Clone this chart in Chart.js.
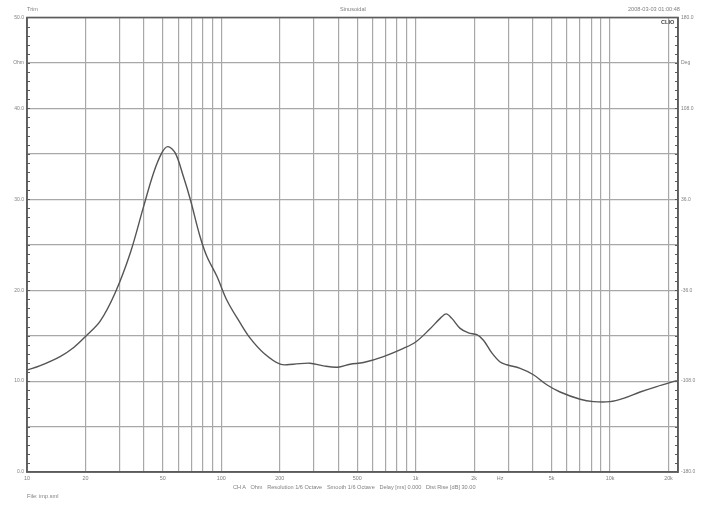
<!DOCTYPE html>
<html>
<head>
<meta charset="utf-8">
<script src="https://cdn.jsdelivr.net/npm/chart.js@4.4.1/dist/chart.umd.min.js"></script>
<style>
    body { margin: 0; background: #fff; }
    #wrap { position: relative; width: 705px; height: 508px; }
    .lbl { position: absolute; font-family: "Liberation Sans", Arial, sans-serif; font-size: 5.6px; line-height: 6px; color: #808080; white-space: pre; }
</style>
</head>
<body>
<div id="wrap">
    <canvas id="impChart" width="705" height="508"></canvas>
    <div class="lbl" style="left:27px; top:6px;">Trim</div>
    <div class="lbl" style="left:340px; top:6px;">Sinusoidal</div>
    <div class="lbl" style="left:628px; top:6px;">2008-03-03 01:00:48</div>
    <div class="lbl" style="left:661px; top:19px; font-weight:bold; color:#444;">CLIO</div>
    <div class="lbl" style="left:233px; top:484px;">CH A   Ohm   Resolution 1/6 Octave   Smooth 1/6 Octave   Delay [ms] 0.000   Dist Rise [dB] 30.00</div>
    <div class="lbl" style="left:27px; top:493px;">File: imp.sml</div>
</div>
<script>
// impedance curve
const freqHz = [10, 11.7, 14.8, 17.4, 20.2, 23.8, 28.4, 34, 39.8, 44.8, 49.4, 53, 57.9, 63.8, 69.2, 77.7, 84.3, 95, 106.8, 125, 141, 165, 201, 235, 286, 336, 396, 460, 539, 683, 865, 1000, 1180, 1337, 1436, 1535, 1694, 1870, 2065, 2233, 2466, 2721, 2944, 3450, 4036, 4730, 5536, 7020, 8220, 10000, 11720, 14290, 17400, 22080];
const impedanceOhm = [11.2, 11.7, 12.7, 13.7, 15.0, 16.6, 19.7, 24.1, 29.2, 32.9, 35.1, 35.8, 35.1, 32.5, 30.0, 25.9, 23.7, 21.5, 18.9, 16.4, 14.7, 13.1, 11.86, 11.86, 11.97, 11.67, 11.53, 11.86, 12.04, 12.7, 13.6, 14.3, 15.7, 16.9, 17.4, 16.9, 15.8, 15.3, 15.1, 14.5, 13.1, 12.1, 11.8, 11.4, 10.7, 9.6, 8.8, 8.0, 7.74, 7.74, 8.1, 8.8, 9.4, 10.05];

// x axis grid + labels ("Hz" sits between 2k and 5k with no grid line)
const xTicks = [10, 20, 30, 40, 50, 60, 70, 80, 90, 100, 200, 300, 400, 500, 600, 700, 800, 900, 1000, 2000, 2721, 3000, 4000, 5000, 6000, 7000, 8000, 9000, 10000, 20000];
const xTickLabels = ["10", "20", "", "", "50", "", "", "", "", "100", "200", "", "", "500", "", "", "", "", "1k", "2k", "Hz", "", "", "5k", "", "", "", "", "10k", "20k"];
const hzTick = 2721;

const gridGrey = "#a8a8a8";
const frameGrey = "#5c5c5c";
const textGrey = "#808080";

// minor ticks every 1 Ohm on both side axes + frame around the plot
const framePlugin = {
    id: "frame",
    afterDraw(chart) {
        const ctx = chart.ctx;
        const area = chart.chartArea;
        const y = chart.scales.y;
        ctx.save();
        ctx.strokeStyle = frameGrey;
        ctx.lineWidth = 1;
        ctx.beginPath();
        for (let v = 1; v < 50; v++) {
            const py = Math.round(y.getPixelForValue(v)) + 0.5;
            ctx.moveTo(area.left, py);
            ctx.lineTo(area.left + 3, py);
            ctx.moveTo(area.right - 3, py);
            ctx.lineTo(area.right, py);
        }
        ctx.stroke();
        ctx.lineWidth = 1.6;
        ctx.strokeRect(area.left, area.top, area.right - area.left, area.bottom - area.top);
        ctx.restore();
    },
};

new Chart(document.getElementById("impChart").getContext("2d"), {
    type: "line",
    data: {
        datasets: [
            {
                data: freqHz.map((f, i) => ({ x: f, y: impedanceOhm[i] })),
                borderColor: "#555",
                borderWidth: 1.4,
                pointRadius: 0,
                tension: 0.35,
                yAxisID: "y",
            },
        ],
    },
    options: {
        responsive: false,
        animation: false,
        layout: { padding: { top: 17.5 } },
        plugins: { legend: { display: false }, tooltip: { enabled: false } },
        scales: {
            x: {
                type: "logarithmic",
                min: 10,
                max: 22390,
                afterBuildTicks: (scale) => {
                    scale.ticks = xTicks.map((v) => ({ value: v }));
                },
                afterFit: (scale) => {
                    scale.height = 36;
                },
                ticks: {
                    autoSkip: false,
                    maxRotation: 0,
                    padding: 3,
                    color: textGrey,
                    font: { family: "'Liberation Sans', Arial, sans-serif", size: 5.4 },
                    callback: (value, index) => xTickLabels[index],
                },
                grid: {
                    color: (c) => (c.tick && c.tick.value === hzTick ? "rgba(0,0,0,0)" : gridGrey),
                    lineWidth: 1.2,
                    drawTicks: false,
                },
                border: { color: frameGrey, width: 1.6 },
            },
            y: {
                min: 0,
                max: 50,
                afterFit: (scale) => {
                    scale.width = 27;
                },
                ticks: {
                    stepSize: 5,
                    autoSkip: false,
                    padding: 3,
                    color: textGrey,
                    font: { family: "'Liberation Sans', Arial, sans-serif", size: 5 },
                    callback: (v) => (v === 45 ? "Ohm" : v % 10 === 0 ? v.toFixed(1) : ""),
                },
                grid: { color: gridGrey, lineWidth: 1.2, drawTicks: false },
                border: { color: frameGrey, width: 1.6 },
            },
            y2: {
                position: "right",
                min: -180,
                max: 180,
                afterFit: (scale) => {
                    scale.width = 27;
                },
                ticks: {
                    stepSize: 36,
                    autoSkip: false,
                    padding: 3,
                    color: textGrey,
                    font: { family: "'Liberation Sans', Arial, sans-serif", size: 5 },
                    callback: (v) => (v === 144 ? "Deg" : (v + 180) % 72 === 0 ? v.toFixed(1) : ""),
                },
                grid: { drawOnChartArea: false, drawTicks: false },
                border: { color: frameGrey, width: 1.6 },
            },
        },
    },
    plugins: [framePlugin],
});
</script>
</body>
</html>
